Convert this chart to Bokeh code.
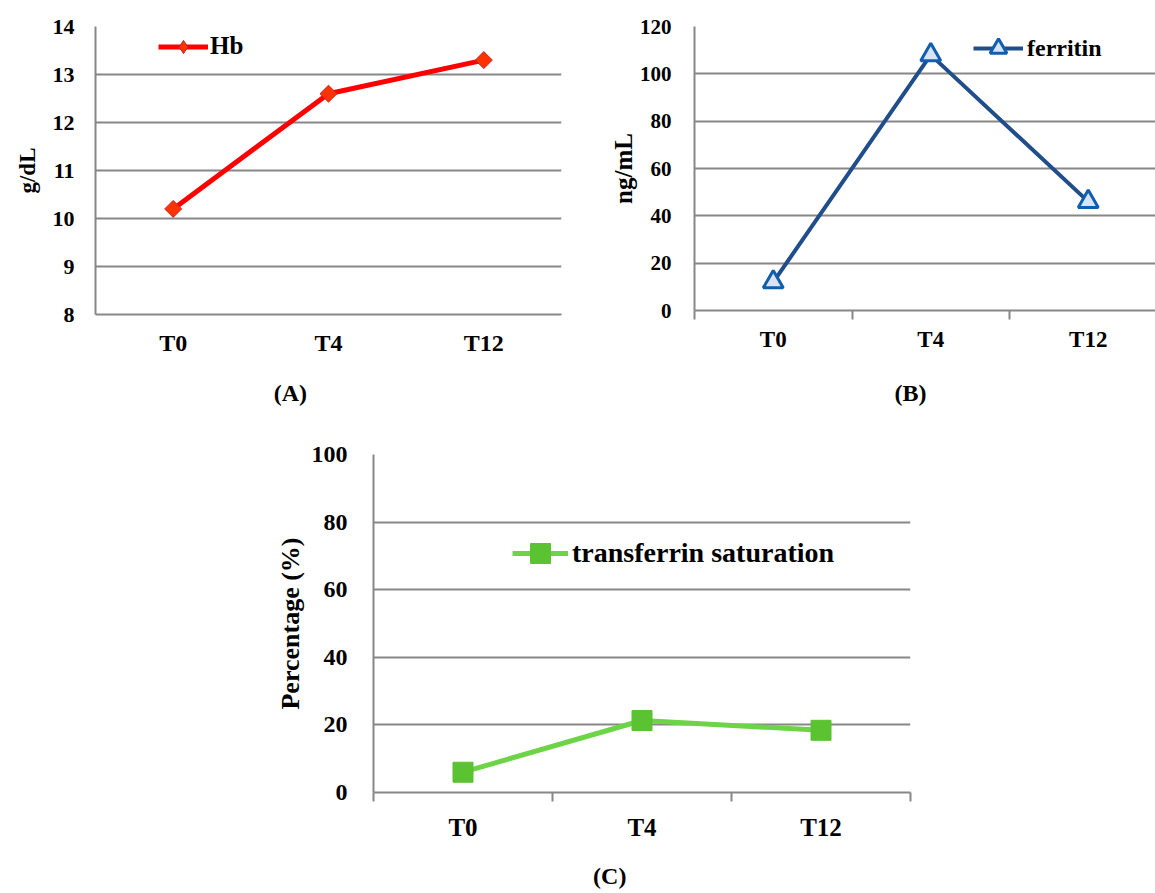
import numpy as np
from bokeh.plotting import figure
from bokeh.models import Range1d, FixedTicker, Legend, LegendItem, LinearAxis
from bokeh.layouts import column, row
from bokeh.embed import file_html
from bokeh.resources import INLINE

# ---- data ----
timepoints = ["T0", "T4", "T12"]
hb = [10.2, 12.6, 13.3]
ferritin = [12, 108, 46]
tsat = [6.0, 21.3, 18.4]

hb_ticks = [8, 9, 10, 11, 12, 13, 14]
ferritin_ticks = [0, 20, 40, 60, 80, 100, 120]
tsat_ticks = [0, 20, 40, 60, 80, 100]

FONT = "Liberation Serif"
GRID = "#878787"

xs = list(np.arange(len(timepoints)) + 0.5)
bounds = list(range(len(timepoints) + 1))


def make_fig(fw, fh, ml, mr, mt, mb, xend, yticks, tick_size, xlab_size,
             ylab, ylab_size, ylab_standoff, ytick_standoff, xtick_standoff,
             boundary_ticks):
    p = figure(frame_width=fw, frame_height=fh, min_border_left=ml,
               min_border_right=mr, min_border_top=mt, min_border_bottom=mb,
               x_range=Range1d(0, xend), y_range=Range1d(yticks[0], yticks[-1]),
               output_backend="svg", toolbar_location=None)
    p.outline_line_color = None
    p.background_fill_color = "white"
    p.border_fill_color = "white"
    p.xgrid.visible = False
    p.ygrid.grid_line_color = GRID
    p.ygrid.grid_line_width = 2
    p.ygrid.ticker = FixedTicker(ticks=yticks)

    ya = p.yaxis[0]
    ya.ticker = FixedTicker(ticks=yticks)
    ya.axis_line_color = GRID
    ya.axis_line_width = 2
    ya.major_tick_line_color = None
    ya.major_tick_out = 0
    ya.major_tick_in = 0
    ya.minor_tick_line_color = None
    ya.major_label_text_font = FONT
    ya.major_label_text_font_style = "bold"
    ya.major_label_text_font_size = tick_size
    ya.major_label_text_color = "black"
    ya.major_label_standoff = ytick_standoff
    ya.axis_label = ylab
    ya.axis_label_text_font = FONT
    ya.axis_label_text_font_style = "bold"
    ya.axis_label_text_font_size = ylab_size
    ya.axis_label_text_color = "black"
    ya.axis_label_standoff = ylab_standoff

    xa = p.xaxis[0]
    minor = bounds if boundary_ticks else []
    xa.ticker = FixedTicker(ticks=xs, minor_ticks=minor)
    xa.major_label_overrides = {float(x): t for x, t in zip(xs, timepoints)}
    xa.axis_line_color = GRID
    xa.axis_line_width = 2
    xa.major_tick_line_color = None
    xa.major_tick_out = 0
    xa.major_tick_in = 0
    if boundary_ticks:
        xa.minor_tick_line_color = GRID
        xa.minor_tick_line_width = 2
        xa.minor_tick_in = 0
        xa.minor_tick_out = 9
    else:
        xa.minor_tick_line_color = None
    xa.major_label_text_font = FONT
    xa.major_label_text_font_style = "bold"
    xa.major_label_text_font_size = xlab_size
    xa.major_label_text_color = "black"
    xa.major_label_standoff = xtick_standoff
    return p


def add_legend(p, label, renderers, loc, gw, gh, standoff, size):
    leg = Legend(items=[LegendItem(label=label, renderers=renderers)],
                 location=loc, padding=0, margin=0, spacing=0,
                 border_line_color=None, background_fill_alpha=0,
                 glyph_width=gw, glyph_height=gh, label_height=20,
                 label_standoff=standoff, label_text_font=FONT,
                 label_text_font_style="bold", label_text_font_size=size,
                 label_text_color="black")
    p.add_layout(leg)


def add_caption(p, text, xpos, standoff):
    # panel caption drawn as the single label of an extra, invisible axis
    cap = LinearAxis(ticker=FixedTicker(ticks=[xpos]),
                     major_label_overrides={xpos: text},
                     axis_line_color=None, major_tick_line_color=None,
                     minor_tick_line_color=None, major_tick_out=0,
                     major_tick_in=0, minor_tick_out=0, minor_tick_in=0,
                     major_label_standoff=standoff,
                     major_label_text_font=FONT,
                     major_label_text_font_style="bold",
                     major_label_text_font_size="24px",
                     major_label_text_color="black")
    p.add_layout(cap, "below")


# ---- Panel A ----
pa = make_fig(466, 288, 95, 23, 26, 114, 3, hb_ticks, "22px", "24px",
              "g/dL", "23px", 10, 21, 15, False)
la = pa.line(xs, hb, line_color="#FF0000", line_width=5)
sa = pa.scatter(xs, hb, marker="square", angle=np.pi / 4, size=12,
                fill_color="#FF3300", line_color="#C0272D", line_width=1)
sa_leg = pa.scatter(xs, hb, marker="diamond", size=12, fill_color="#FF3300",
                    line_color="#C0272D", line_width=1, visible=False)
add_legend(pa, "Hb", [la, sa_leg], (63, 251.5), 50, 33, 2, "25px")
add_caption(pa, "(A)", 1.255, 21)

# ---- Panel B ----
pb = make_fig(461, 284, 110, 0, 25, 119, 461 / 157.5, ferritin_ticks, "21px",
              "23px", "ng/mL", "25px", 0, 23, 7, True)
lb = pb.line(xs, ferritin, line_color="#1F4E8A", line_width=4)
sb = pb.scatter(xs, ferritin, marker="triangle", size=20,
                fill_color="#D6E4F5", line_color="#0F5FAE", line_width=3)
add_legend(pb, "ferritin", [lb, sb], (279, 241), 50, 42, 4, "24px")
add_caption(pb, "(B)", 1.371, 25)

# ---- Panel C ----
pc = make_fig(537, 338, 373, 245, 26, 101, 3, tsat_ticks, "24px", "25px",
              "Percentage (%)", "26px", 4, 26, 12, True)
lc = pc.line(xs, tsat, line_color="#6DD447", line_width=5)
sc = pc.scatter(xs, tsat, marker="square", size=20,
                fill_color="#5BC232", line_color="#5BC232", line_width=1)
add_legend(pc, "transferrin saturation", [lc, sc], (139, 214), 56, 50, 4, "28px")
add_caption(pc, "(C)", 1.32, 19)

layout = column(row(pa, pb), pc)

open("out.html", "w").write(file_html(layout, INLINE))
